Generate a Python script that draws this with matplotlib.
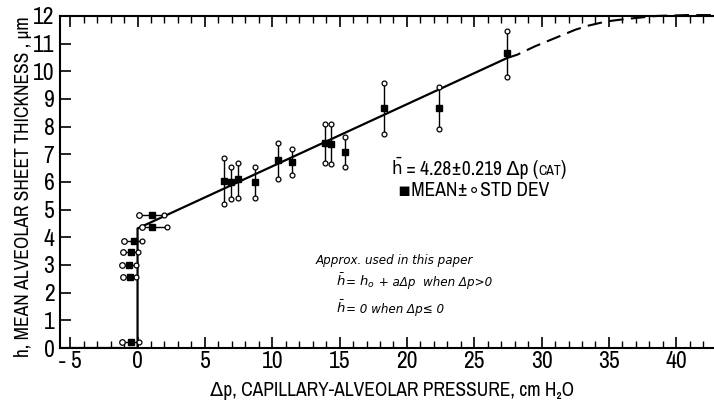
import matplotlib
matplotlib.use("Agg")
import matplotlib.pyplot as plt

# vertical bars: mean +- std dev, delta p > 0
dp_vals = [6.4, 6.95, 7.45, 8.7, 10.45, 11.45, 13.9, 14.4, 15.4, 18.3, 22.4, 27.4]
h_mean = [6.05, 6.0, 6.1, 6.0, 6.8, 6.73, 7.4, 7.37, 7.1, 8.66, 8.66, 10.65]
h_hi = [6.88, 6.55, 6.68, 6.55, 7.42, 7.18, 8.08, 8.08, 7.62, 9.58, 9.42, 11.45]
h_lo = [5.22, 5.38, 5.42, 5.42, 6.1, 6.25, 6.7, 6.65, 6.53, 7.72, 7.9, 9.78]

# horizontal bars near delta p = 0
row_h = [4.82, 4.37, 3.86, 3.46, 2.99, 2.55, 0.23]
row_mean = [1.05, 1.1, -0.26, -0.48, -0.63, -0.56, -0.48]
row_lo = [0.13, 0.31, -1.0, -1.1, -1.17, -1.05, -1.13]
row_hi = [1.97, 2.17, 0.31, 0.02, -0.1, -0.1, 0.11]

# approximation used (solid) and extrapolation (dashed)
fit_x = [-6, 0, 0, 27.4]
fit_y = [0, 0, 4.32, 10.47]
ext_x = [27.4, 28.2, 29.5, 31.1, 32.5, 33.4, 34.8, 36.1, 37.5, 38.6, 40.8, 43]
ext_y = [10.47, 10.6, 10.9, 11.22, 11.5, 11.64, 11.8, 11.88, 11.95, 12.0, 12.03, 12.03]

xtick_pos = [-5, 0, 5, 10, 15, 20, 25, 30, 35, 40]
xtick_lab = ['- 5', '0', '5', '10', '15', '20', '25', '30', '35', '40']

FONT = ['Archivo Narrow', 'DejaVu Sans']
plt.rcParams['font.family'] = FONT

fig = plt.figure(figsize=(7.14, 4.08), dpi=100)
ax = fig.add_axes([0.084, 0.147, 0.916, 0.814])

ax.plot(fit_x, fit_y, color='black', lw=1.6)
ax.plot(ext_x, ext_y, color='black', lw=1.5, ls=(0, (7, 3.5)), clip_on=False)

ax.vlines(dp_vals, h_lo, h_hi, color='black', lw=1)
ax.plot(dp_vals, h_mean, 's', color='black', ms=4)
ax.plot(dp_vals, h_hi, 'o', mfc='white', mec='black', ms=3.5, mew=0.9)
ax.plot(dp_vals, h_lo, 'o', mfc='white', mec='black', ms=3.5, mew=0.9)

ax.hlines(row_h, row_lo, row_hi, color='black', lw=1)
ax.plot(row_mean, row_h, 's', color='black', ms=5)
ax.plot(row_lo, row_h, 'o', mfc='white', mec='black', ms=4, mew=0.9)
ax.plot(row_hi, row_h, 'o', mfc='white', mec='black', ms=3.5, mew=0.9)

ax.set_xlim(-5.76, 42.8)
ax.set_ylim(0, 12)
ax.spines['right'].set_visible(False)
for s in ['left', 'top', 'bottom']:
    ax.spines[s].set_linewidth(1.5)

ax.set_xticks(xtick_pos)
ax.set_xticklabels(xtick_lab)
ax.set_xticks(range(-5, 43), minor=True)
ax.set_yticks(range(0, 13))
ax.tick_params(which='both', direction='in', top=True, right=False, labelsize=17)
ax.tick_params(which='major', length=8, width=1.2)
ax.tick_params(which='minor', length=5, width=1)
ax.tick_params(axis='y', pad=4)
ax.tick_params(axis='x', pad=2)

ax.set_xlabel('Δp, CAPILLARY-ALVEOLAR PRESSURE, cm H₂O', fontsize=14)
ax.set_ylabel('h, MEAN ALVEOLAR SHEET THICKNESS , μm', fontsize=14)
ax.xaxis.set_label_coords(0.508, -0.1)
ax.yaxis.set_label_coords(-0.041, 0.485)


def chain(x, y, parts):
    # write pieces one after another on the same baseline
    first_s, first_kw = parts[0]
    prev = ax.text(x, y, first_s, va='baseline', **first_kw)
    for s, kw in parts[1:]:
        prev = ax.annotate(s, xy=(1, y), xycoords=(prev, 'data'), va='baseline', **kw)
    return prev


up = dict(fontsize=14)
chain(18.8, 6.25, [(r'$\bar{\mathrm{h}}$', dict(fontsize=12)),
                   (' = 4.28±0.219 Δp (', up),
                   ('CAT', dict(fontsize=10)),
                   (')', up)])
ax.text(19.35, 5.69, '▪MEAN±∘STD DEV', fontsize=14, va='center')

ital = dict(family='DejaVu Sans', stretch='condensed', style='italic', fontsize=9.5)
ax.text(13.2, 3.17, 'Approx. used in this paper', va='center', **ital)
chain(14.75, 2.25, [(r'$\bar{h}$', ital), ('= ', ital), (r'$h_o$', ital),
                    (' + aΔp  when Δp>0', ital)])
chain(14.75, 1.28, [(r'$\bar{h}$', ital), ('= 0 when Δp≤ 0', ital)])

fig.savefig('out.png', dpi=100)
